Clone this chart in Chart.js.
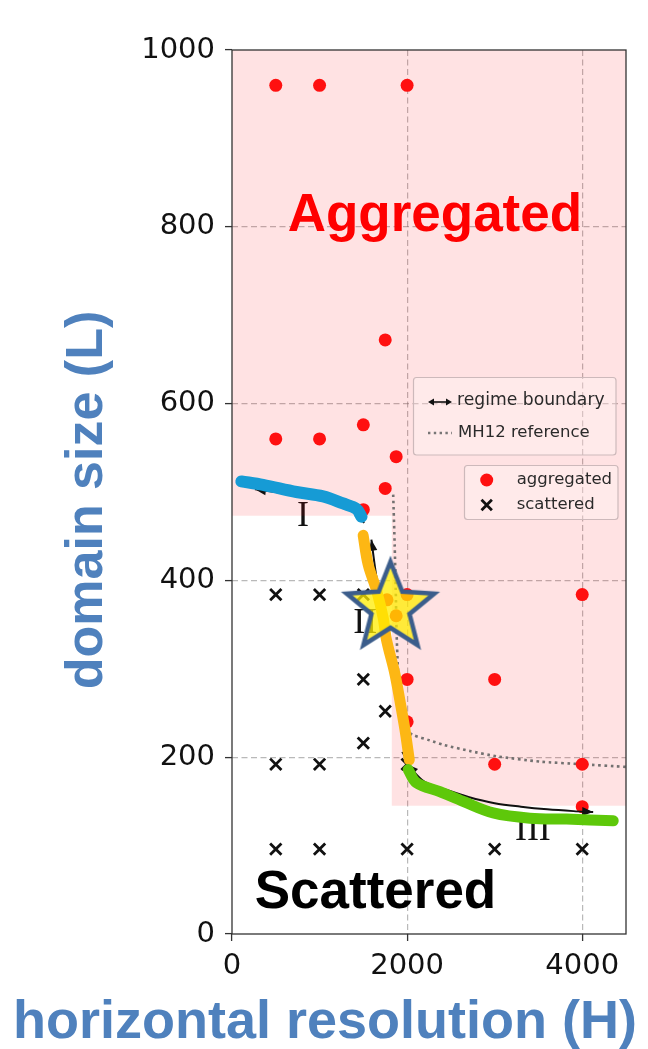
<!DOCTYPE html>
<html>
<head>
<meta charset="utf-8">
<title>Regime diagram: domain size vs horizontal resolution</title>
<script src="https://cdn.jsdelivr.net/npm/chart.js@4.4.1/dist/chart.umd.min.js"></script>
<style>
  html, body { margin: 0; padding: 0; background: #ffffff; }
  #wrap { position: relative; width: 648px; height: 1049px; }
</style>
</head>
<body>
<div id="wrap"><canvas id="c" width="648" height="1049"></canvas></div>
<script>
// ---- axis ticks ----
const xTickValues = [0, 2000, 4000];
const yTickValues = [0, 200, 400, 600, 800, 1000];

// ---- runs: [horizontal resolution H, domain size L] ----
const aggregatedRuns = [
  [500, 960], [1000, 960], [2000, 960],
  [500, 560], [1000, 560], [1500, 576], [1750, 672],
  [1875, 540], [1750, 504], [1500, 480],
  [1770, 378], [1875, 360], [2000, 384],
  [2000, 288], [2000, 240],
  [3000, 288], [3000, 192],
  [4000, 384], [4000, 192], [4000, 144]
];
const scatteredRuns = [
  [500, 384], [1000, 384], [1500, 384],
  [1500, 288], [1750, 252], [1500, 216],
  [500, 192], [1000, 192], [2000, 192],
  [500, 96], [1000, 96], [2000, 96], [3000, 96], [4000, 96]
];

// lower edge of the aggregated region (filled up to L = 1000)
const aggregatedEdge = [[0, 473], [1825, 473], [1825, 145], [4500, 145]];

// regime curves
const regimeI = [[107, 512], [354, 508], [736, 500], [1041, 495], [1269, 487], [1421, 481], [1479, 472]];
const regimeII = [[1498, 451], [1555, 418], [1650, 389], [1726, 358], [1764, 333], [1859, 295], [1916, 265], [1974, 232], [2025, 197]];
const regimeIII = [[2012, 186], [2107, 171], [2374, 161], [2640, 150], [2983, 137], [3402, 131], [3821, 130], [4354, 128]];

// regime boundaries (double-headed arrows)
const boundaryI = [[1508, 465], [1440, 476], [1300, 483], [1100, 489], [800, 495], [500, 500], [262, 503]];
const boundaryII = [[1592, 446], [1640, 410], [1700, 375], [1760, 342], [1815, 310], [1870, 282], [1930, 250], [1975, 215], [2000, 194]];
const boundaryIII = [[2000, 192], [2200, 172], [2450, 163], [2700, 155], [3000, 148], [3300, 144], [3600, 141], [3900, 139], [4125, 138]];

// MH12 reference curve
const mh12Reference = [
  [1841, 497], [1858, 440], [1870, 390], [1880, 340], [1895, 300], [1910, 270],
  [1930, 245], [1970, 232], [2070, 225], [2260, 219], [2415, 214], [2716, 207],
  [3021, 201], [3517, 195], [4000, 192], [4500, 189]
];

// highlighted run
const highlightRun = [[1810, 369]];

const toXY = arr => arr.map(([x, y]) => ({ x, y }));

// five-pointed star sprite used as a point style
function makeStarSprite(outer, inner, fill, stroke, lw) {
  const size = Math.ceil(2 * outer + 4 * lw + 4);
  const cv = document.createElement('canvas');
  cv.width = size; cv.height = size;
  const g = cv.getContext('2d');
  const c = size / 2;
  g.beginPath();
  for (let i = 0; i < 10; i++) {
    const r = i % 2 ? inner : outer;
    const a = -Math.PI / 2 + i * Math.PI / 5;
    g.lineTo(c + r * Math.cos(a), c + r * Math.sin(a));
  }
  g.closePath();
  g.fillStyle = fill;
  g.fill();
  g.lineJoin = 'miter';
  g.lineWidth = lw;
  g.strokeStyle = stroke;
  g.stroke();
  return cv;
}
const starSprite = makeStarSprite(46, 20, 'rgba(255, 236, 0, 0.75)', '#3b5d8b', 4.5);

function arrowHead(ctx, tip, from, len, half, color) {
  const a = Math.atan2(tip.y - from.y, tip.x - from.x);
  const bx = tip.x - len * Math.cos(a), by = tip.y - len * Math.sin(a);
  ctx.beginPath();
  ctx.moveTo(tip.x, tip.y);
  ctx.lineTo(bx + half * Math.sin(a), by - half * Math.cos(a));
  ctx.lineTo(bx - half * Math.sin(a), by + half * Math.cos(a));
  ctx.closePath();
  ctx.fillStyle = color;
  ctx.fill();
}

// arrowheads at both ends of the boundary lines
const arrowPlugin = {
  id: 'boundaryArrows',
  afterDatasetDraw(chart, args) {
    const ds = chart.data.datasets[args.index];
    if (!ds.arrowEnds) return;
    const pts = args.meta.data;
    if (pts.length < 2) return;
    const ctx = chart.ctx;
    ctx.save();
    const n = pts.length;
    arrowHead(ctx, pts[0], pts[1], 11, 4.5, '#111');
    arrowHead(ctx, pts[n - 1], pts[n - 2], 11, 4.5, '#111');
    ctx.restore();
  }
};

// roman numerals under the curves
const numeralLabels = [
  { text: 'I', x: 811, y: 461, align: 'center' },
  { text: 'II', x: 1385, y: 340, align: 'left' },
  { text: 'III', x: 3231, y: 106, align: 'left' }
];
const numeralPlugin = {
  id: 'numerals',
  beforeDatasetsDraw(chart) {
    const { ctx, scales: { x, y } } = chart;
    ctx.save();
    ctx.font = '36px "Liberation Serif", "DejaVu Serif", serif';
    ctx.fillStyle = '#111';
    ctx.textBaseline = 'alphabetic';
    numeralLabels.forEach(l => {
      ctx.textAlign = l.align;
      ctx.fillText(l.text, x.getPixelForValue(l.x), y.getPixelForValue(l.y));
    });
    ctx.restore();
  }
};

// frame, region names, legend boxes and axis titles
const overlayPlugin = {
  id: 'overlay',
  afterDatasetsDraw(chart) {
    const { ctx, chartArea: a } = chart;
    ctx.save();
    ctx.strokeStyle = '#333';
    ctx.lineWidth = 1.3;
    ctx.strokeRect(a.left, a.top, a.right - a.left, a.bottom - a.top);
    ctx.restore();
  },
  afterDraw(chart) {
    const { ctx, scales: { x, y } } = chart;
    ctx.save();
    // region names
    ctx.font = 'bold 53px "Liberation Sans", Arial, sans-serif';
    ctx.textAlign = 'center';
    ctx.textBaseline = 'alphabetic';
    ctx.fillStyle = '#ff0000';
    ctx.fillText('Aggregated', x.getPixelForValue(2317), y.getPixelForValue(795));
    ctx.fillStyle = '#000000';
    ctx.textAlign = 'left';
    ctx.fillText('Scattered', x.getPixelForValue(259), y.getPixelForValue(29));

    // legend boxes
    ctx.lineWidth = 1.2;
    ctx.strokeStyle = '#cdb9bb';
    ctx.fillStyle = 'rgba(255, 245, 245, 0.35)';
    ctx.beginPath(); ctx.roundRect(413.5, 377.5, 202.5, 77.5, 3); ctx.fill(); ctx.stroke();
    ctx.beginPath(); ctx.roundRect(464.5, 465.5, 153.5, 54, 3); ctx.fill(); ctx.stroke();

    ctx.strokeStyle = '#111';
    ctx.lineWidth = 1.6;
    ctx.beginPath(); ctx.moveTo(431, 402); ctx.lineTo(449, 402); ctx.stroke();
    arrowHead(ctx, { x: 428, y: 402 }, { x: 440, y: 402 }, 6, 3.5, '#111');
    arrowHead(ctx, { x: 452, y: 402 }, { x: 440, y: 402 }, 6, 3.5, '#111');

    ctx.strokeStyle = 'rgba(105,105,105,0.9)';
    ctx.lineWidth = 2.4;
    ctx.setLineDash([2.4, 3.4]);
    ctx.beginPath(); ctx.moveTo(428, 433); ctx.lineTo(452, 433); ctx.stroke();
    ctx.setLineDash([]);

    ctx.fillStyle = '#ff1010';
    ctx.beginPath(); ctx.arc(486.7, 480, 6.5, 0, Math.PI * 2); ctx.fill();
    ctx.strokeStyle = '#111';
    ctx.lineWidth = 2.8;
    ctx.beginPath();
    ctx.moveTo(481.5, 499.8); ctx.lineTo(491.9, 510.2);
    ctx.moveTo(491.9, 499.8); ctx.lineTo(481.5, 510.2);
    ctx.stroke();

    ctx.fillStyle = '#2a2a2a';
    ctx.textBaseline = 'middle';
    ctx.textAlign = 'left';
    ctx.font = '17.2px "DejaVu Sans", sans-serif';
    ctx.fillText('regime boundary', 457, 401);
    ctx.font = '16.5px "DejaVu Sans", sans-serif';
    ctx.fillText('MH12 reference', 458, 433);
    ctx.fillText('aggregated', 516.7, 480);
    ctx.fillText('scattered', 516.7, 505);

    // axis titles
    ctx.fillStyle = '#4f81bd';
    ctx.font = 'bold 54px "Liberation Sans", Arial, sans-serif';
    ctx.textBaseline = 'alphabetic';
    ctx.textAlign = 'center';
    ctx.fillText('horizontal resolution (H)', 325, 1038);
    ctx.translate(102, 500);
    ctx.rotate(-Math.PI / 2);
    ctx.font = 'bold 52px "Liberation Sans", Arial, sans-serif';
    ctx.fillText('domain size (L)', 0, 0);
    ctx.restore();
  }
};

const gridColorX = ctx => (ctx.tick && ctx.tick.value === 0) ? 'rgba(0,0,0,0)' : 'rgba(115,115,115,0.5)';
const gridColorY = ctx => (ctx.tick && (ctx.tick.value === 0 || ctx.tick.value === 1000)) ? 'rgba(0,0,0,0)' : 'rgba(115,115,115,0.5)';

new Chart(document.getElementById('c'), {
  type: 'line',
  data: {
    datasets: [
      {
        label: 'aggregated region', data: toXY(aggregatedEdge), fill: 'end',
        backgroundColor: 'rgba(255, 0, 8, 0.115)', borderColor: 'rgba(0,0,0,0)', borderWidth: 0,
        pointRadius: 0, tension: 0, order: 20
      },
      {
        label: 'MH12 reference', data: toXY(mh12Reference), fill: false,
        borderColor: 'rgba(100,100,100,0.9)', borderWidth: 2.6, borderDash: [2.6, 3.6],
        pointRadius: 0, tension: 0.2, order: 19
      },
      {
        label: 'aggregated', data: toXY(aggregatedRuns), showLine: false,
        pointStyle: 'circle', pointRadius: 6.5, pointBackgroundColor: '#ff1010',
        pointBorderWidth: 0, pointBorderColor: 'rgba(0,0,0,0)', order: 18
      },
      {
        label: 'scattered', data: toXY(scatteredRuns), showLine: false,
        pointStyle: 'crossRot', pointRadius: 8, pointBorderColor: '#111',
        pointBorderWidth: 2.8, order: 17
      },
      {
        label: 'boundary I', data: toXY(boundaryI), borderColor: '#111', borderWidth: 2,
        pointRadius: 0, tension: 0.3, arrowEnds: true, order: 16
      },
      {
        label: 'boundary II', data: toXY(boundaryII), borderColor: '#111', borderWidth: 2,
        pointRadius: 0, tension: 0.3, arrowEnds: true, order: 15
      },
      {
        label: 'boundary III', data: toXY(boundaryIII), borderColor: '#111', borderWidth: 2,
        pointRadius: 0, tension: 0.3, arrowEnds: true, order: 14
      },
      {
        label: 'regime I', data: toXY(regimeI), borderColor: '#169bd5', borderWidth: 12,
        borderCapStyle: 'round', borderJoinStyle: 'round', pointRadius: 0, tension: 0.35, order: 3
      },
      {
        label: 'regime II', data: toXY(regimeII), borderColor: '#fdb714', borderWidth: 11,
        borderCapStyle: 'round', borderJoinStyle: 'round', pointRadius: 0, tension: 0.35, order: 2
      },
      {
        label: 'regime III', data: toXY(regimeIII), borderColor: '#5ec80a', borderWidth: 11,
        borderCapStyle: 'round', borderJoinStyle: 'round', pointRadius: 0, tension: 0.35, order: 1
      },
      {
        label: 'highlight', data: toXY(highlightRun), showLine: false,
        pointStyle: starSprite, pointRadius: 10, order: 0
      }
    ]
  },
  options: {
    responsive: false,
    animation: false,
    events: [],
    layout: { padding: { left: 0, right: 22, top: 50, bottom: 0 } },
    plugins: { legend: { display: false }, tooltip: { enabled: false } },
    scales: {
      x: {
        type: 'linear', min: 0, max: 4500,
        afterBuildTicks: s => { s.ticks = xTickValues.map(v => ({ value: v })); },
        afterFit: s => { s.height = 115; },
        grid: { color: gridColorX, lineWidth: 1.2, tickLength: 7, tickColor: '#333', tickWidth: 1.3, tickBorderDash: [] },
        border: { display: false, dash: [6, 3.5] },
        ticks: { font: { family: 'DejaVu Sans', size: 29 }, color: '#111', padding: 8, maxRotation: 0, autoSkip: false, callback: v => String(v) }
      },
      y: {
        type: 'linear', min: 0, max: 1000,
        afterBuildTicks: s => { s.ticks = yTickValues.map(v => ({ value: v })); },
        afterFit: s => { s.width = 232; },
        grid: { color: gridColorY, lineWidth: 1.2, tickLength: 7, tickColor: '#333', tickWidth: 1.3, tickBorderDash: [] },
        border: { display: false, dash: [6, 3.5] },
        ticks: { font: { family: 'DejaVu Sans', size: 29 }, color: '#111', padding: 10, autoSkip: false, callback: v => String(v) }
      }
    }
  },
  plugins: [arrowPlugin, numeralPlugin, overlayPlugin]
});
</script>
</body>
</html>
